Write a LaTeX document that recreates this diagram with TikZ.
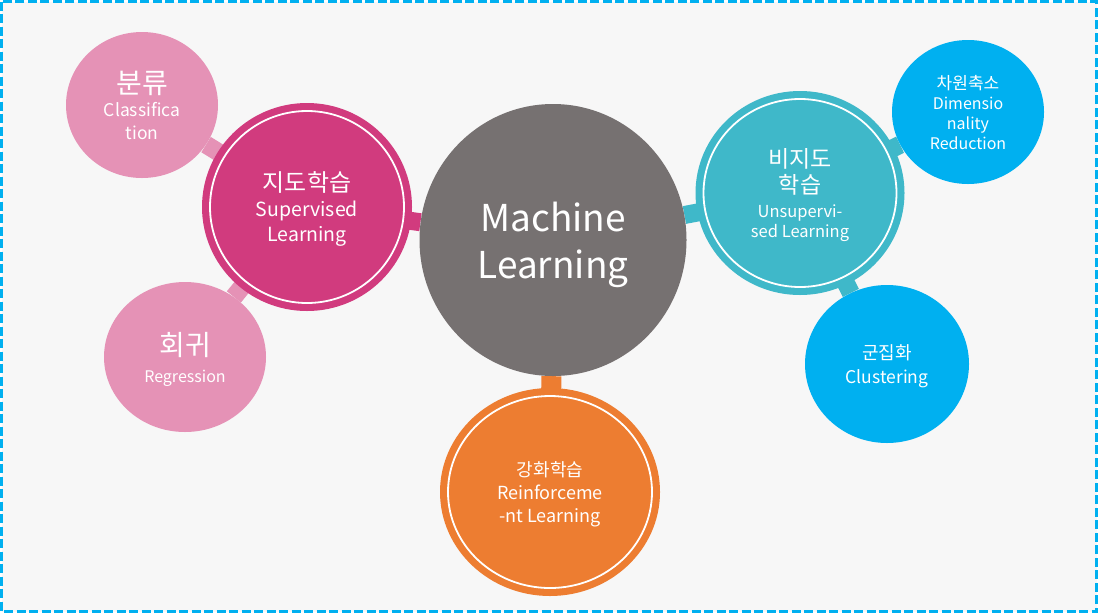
\documentclass[tikz,border=0pt]{standalone}
\usepackage{fontspec}
\setmainfont{Noto Sans CJK KR}
\usepackage{xcolor}
\usepackage{tikz}
\usetikzlibrary{shapes.geometric,backgrounds}
\definecolor{mlgray}{HTML}{767171}
\definecolor{supmag}{HTML}{D13B7E}
\definecolor{suplt}{HTML}{E592B6}
\definecolor{unsteal}{HTML}{3FB8C9}
\definecolor{unsblue}{HTML}{00B0F0}
\definecolor{reorange}{HTML}{ED7D31}
\definecolor{paper}{HTML}{F7F7F7}
\newcommand{\kr}[2]{{\fontsize{#1}{#1}\selectfont #2}}

\begin{document}
\begin{tikzpicture}[x=1pt, y=-1pt,
  every node/.style={text=white, align=center, inner sep=0pt, text depth=0pt},
  blob/.style={ellipse, fill=#1},
  ringed/.style={ellipse, fill=#1, draw=white, line width=1.8pt,
                 preaction={draw=#1, line width=16pt}},
  bar/.style={draw=#1, line width=18pt}]
  \useasboundingbox (0,0) rectangle (1099,614);
  % center
  \node[blob=mlgray, minimum width=267pt, minimum height=272pt,
        font=\fontsize{37}{47}\selectfont] (ml) at (553,240)
    {Machine\\Learning};
  % supervised
  \node[ringed=supmag, minimum width=194pt, minimum height=192pt,
        font=\fontsize{19.5}{25}\selectfont] (sup) at (307,207)
    {\kr{24}{지도학습}\\Supervised\\Learning};
  \node[blob=suplt, minimum width=152pt, minimum height=146pt,
        font=\fontsize{17.5}{23}\selectfont] (cls) at (142,105)
    {\kr{28}{분류}\\Classifica\\tion};
  \node[blob=suplt, minimum width=162pt, minimum height=150pt,
        font=\fontsize{16}{27}\selectfont] (reg) at (185,357)
    {\kr{28}{회귀}\\Regression};
  % unsupervised
  \node[ringed=unsteal, minimum width=193pt, minimum height=188pt,
        font=\fontsize{16.5}{20}\selectfont] (uns) at (800,193)
    {\kr{23}{비지도}\\[5pt]\kr{23}{학습}\\[4pt]Unsupervi-\\sed Learning};
  \node[blob=unsblue, minimum width=152pt, minimum height=144pt,
        font=\fontsize{16}{20}\selectfont] (dim) at (968,112)
    {\kr{17}{차원축소}\\Dimensio\\nality\\Reduction};
  \node[blob=unsblue, minimum width=164pt, minimum height=158pt,
        font=\fontsize{17.5}{24}\selectfont] (clu) at (887,364)
    {\kr{18}{군집화}\\Clustering};
  % reinforcement
  \node[ringed=reorange, minimum width=204pt, minimum height=192pt,
        font=\fontsize{18}{23}\selectfont] (rl) at (550,492)
    {\kr{18}{강화학습}\\Reinforceme\\-nt Learning};
  \begin{scope}[on background layer]
    \draw[fill=paper, draw=unsblue, line width=2.5pt,
          dash pattern=on 9pt off 3.5pt] (1.5,1.5) rectangle (1096.5,611.5);
    \draw[bar=supmag] (ml) -- (sup);
    \draw[bar=suplt] (sup) -- (cls);
    \draw[bar=suplt] (sup) -- (reg);
    \draw[bar=unsteal] (ml) -- (uns);
    \draw[bar=unsteal] (uns) -- (dim);
    \draw[bar=unsteal] (uns) -- (clu);
    \draw[bar=reorange, line width=20pt] (ml) -- (rl);
  \end{scope}
\end{tikzpicture}
\end{document}
